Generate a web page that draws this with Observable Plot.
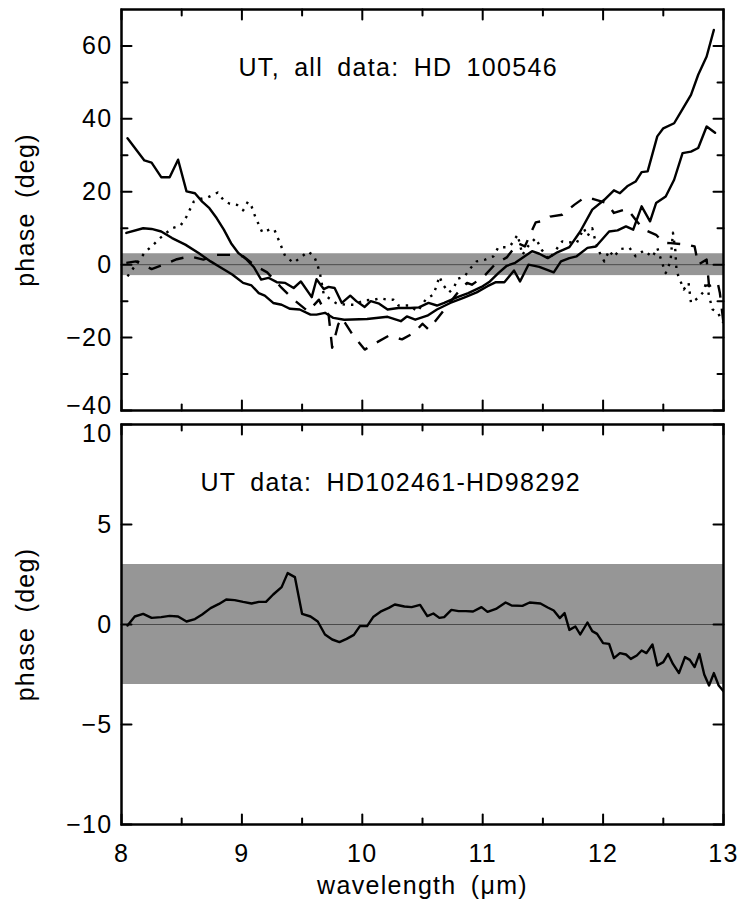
<!DOCTYPE html>
<html>
<head>
<meta charset="utf-8">
<script src="https://cdn.jsdelivr.net/npm/d3@7"></script>
<script src="https://cdn.jsdelivr.net/npm/@observablehq/plot@0.6"></script>
<style>
  body { margin: 0; background: #fff; }
  #chart svg { display: block; }
</style>
</head>
<body>
<div id="chart"></div>
<script>
// ---- Upper panel: HD 100546, four UT measurement sets (phase in degrees) ----
const wlSolid1 = [8.05, 8.19, 8.25, 8.33, 8.40, 8.47, 8.54, 8.61, 8.67, 8.73, 8.79, 8.85, 8.91, 8.97, 9.04, 9.10, 9.16, 9.22, 9.29, 9.36, 9.43, 9.49, 9.58, 9.62, 9.68, 9.72, 9.77, 9.83, 9.90, 9.95, 10.02, 10.07, 10.14, 10.21, 10.30, 10.40, 10.47, 10.55, 10.62, 10.68, 10.79, 10.88, 10.99, 11.06, 11.13, 11.20, 11.27, 11.34, 11.41, 11.47, 11.54, 11.62, 11.72, 11.81, 11.91, 12.01, 12.09, 12.14, 12.20, 12.27, 12.32, 12.37, 12.45, 12.50, 12.59, 12.64, 12.73, 12.79, 12.86, 12.92];
const phSolid1 = [34.7, 28.6, 28.0, 24.0, 24.0, 28.8, 20.1, 19.6, 17.3, 15.5, 12.8, 9.6, 5.9, 3.2, 1.4, -0.7, -4.1, -3.6, -4.8, -5.0, -6.4, -4.6, -8.9, -4.0, -6.7, -6.1, -6.4, -10.5, -8.5, -10.0, -11.6, -10.0, -10.7, -12.3, -11.9, -11.9, -11.7, -10.5, -11.2, -10.5, -8.9, -7.8, -6.1, -4.6, -2.3, -0.3, 0.5, 2.1, 3.7, 3.0, 1.8, 3.4, 4.8, 9.1, 15.1, 17.8, 20.4, 19.6, 21.5, 22.8, 25.4, 25.6, 35.2, 37.4, 38.8, 41.6, 46.6, 52.1, 57.1, 64.4];

const wlSolid2 = [8.04, 8.18, 8.25, 8.33, 8.42, 8.53, 8.64, 8.74, 8.81, 8.92, 9.01, 9.08, 9.14, 9.19, 9.26, 9.33, 9.40, 9.48, 9.57, 9.62, 9.69, 9.76, 9.85, 10.04, 10.21, 10.32, 10.37, 10.44, 10.54, 10.62, 10.73, 10.84, 10.95, 11.04, 11.11, 11.18, 11.26, 11.31, 11.38, 11.47, 11.59, 11.65, 11.72, 11.78, 11.87, 11.94, 12.05, 12.12, 12.19, 12.25, 12.32, 12.39, 12.44, 12.52, 12.59, 12.66, 12.73, 12.79, 12.86, 12.93];
const phSolid2 = [8.7, 10.0, 9.8, 9.1, 7.3, 5.5, 3.2, 0.9, -0.5, -2.7, -5.0, -5.7, -7.8, -8.5, -10.5, -11.0, -12.1, -12.3, -13.7, -13.7, -13.2, -14.6, -15.1, -14.9, -14.3, -15.5, -14.2, -15.1, -14.0, -12.3, -10.5, -9.1, -7.6, -5.9, -4.8, -4.8, -1.6, -4.6, 0.0, -0.6, -2.1, 0.9, 1.8, 2.3, 4.6, 5.0, 9.1, 9.4, 10.5, 9.6, 16.0, 11.9, 16.9, 18.7, 23.3, 30.6, 31.0, 32.0, 37.9, 36.2];

const wlDotted = [8.05, 8.15, 8.20, 8.25, 8.32, 8.42, 8.49, 8.54, 8.60, 8.65, 8.72, 8.80, 8.85, 8.90, 8.96, 9.01, 9.05, 9.08, 9.11, 9.17, 9.24, 9.27, 9.31, 9.36, 9.43, 9.48, 9.55, 9.60, 9.63, 9.65, 9.68, 9.78, 9.86, 9.93, 10.01, 10.10, 10.15, 10.21, 10.26, 10.30, 10.39, 10.46, 10.53, 10.59, 10.62, 10.64, 10.67, 10.72, 10.76, 10.79, 10.85, 10.90, 10.95, 11.02, 11.09, 11.13, 11.19, 11.23, 11.29, 11.33, 11.38, 11.44, 11.49, 11.55, 11.66, 11.78, 11.84, 11.87, 11.91, 11.94, 11.97, 12.01, 12.05, 12.09, 12.14, 12.22, 12.27, 12.34, 12.41, 12.45, 12.49, 12.52, 12.56, 12.58, 12.60, 12.61, 12.64, 12.67, 12.71, 12.73, 12.79, 12.83, 12.86, 12.88, 12.91, 12.95, 13.00];
const phDotted = [-3.2, 1.4, 3.6, 5.0, 7.3, 10.0, 10.7, 13.2, 17.3, 18.0, 18.5, 19.8, 17.6, 16.7, 16.4, 14.9, 17.3, 16.0, 13.2, 8.8, 9.8, 9.6, 6.4, 2.3, 0.5, 1.8, 3.6, 2.3, -0.3, -2.7, -8.2, -10.5, -11.0, -11.0, -9.8, -9.6, -9.2, -9.6, -9.6, -11.2, -11.2, -12.8, -9.4, -8.2, -5.5, -3.2, -5.5, -7.6, -6.4, -3.9, -3.2, -0.9, 0.9, 1.4, 2.3, 4.8, 4.8, 5.2, 8.2, 2.7, 5.2, 7.3, 4.1, 1.4, 6.4, 5.9, 10.0, 7.8, 10.0, 5.9, 3.4, 0.9, 3.9, 2.1, 4.3, 4.6, 2.3, 3.9, 2.1, 4.6, 0.5, -2.3, 0.9, 8.8, 3.9, -1.8, -4.3, -6.8, -5.0, -10.5, -9.1, -7.6, -4.6, -8.7, -12.3, -13.0, -16.0];

const wlDashed = [8.04, 8.12, 8.25, 8.35, 8.46, 8.57, 8.68, 8.79, 8.92, 9.01, 9.12, 9.21, 9.32, 9.43, 9.55, 9.64, 9.68, 9.72, 9.75, 9.80, 9.83, 9.92, 10.02, 10.11, 10.22, 10.33, 10.43, 10.50, 10.55, 10.79, 10.87, 10.91, 11.01, 11.10, 11.20, 11.25, 11.29, 11.35, 11.40, 11.44, 11.50, 11.56, 11.66, 11.76, 11.84, 11.92, 12.03, 12.09, 12.20, 12.28, 12.34, 12.44, 12.50, 12.56, 12.70, 12.76, 12.79, 12.86, 12.88, 12.95, 12.97, 13.00];
const phDashed = [0.5, 0.9, -1.2, 0.0, 1.5, 2.3, 1.4, 2.7, 2.7, 2.3, -0.5, -2.1, -6.0, -9.6, -12.8, -9.6, -12.3, -13.7, -22.8, -16.4, -14.6, -19.2, -23.3, -21.5, -19.5, -20.5, -18.7, -16.2, -17.8, -7.8, -5.0, -5.5, -3.2, 0.0, 2.0, 4.1, 5.9, 5.0, 8.7, 11.6, 12.0, 13.2, 13.7, 16.4, 18.3, 18.0, 16.9, 14.2, 15.3, 11.9, 9.6, 8.2, 6.0, 5.9, 5.5, 5.0, 0.0, 1.4, -5.9, -4.6, -7.8, -16.0];

// ---- Lower panel: calibrator pair HD102461 - HD98292 ----
const wlCal = [8.05, 8.11, 8.18, 8.25, 8.33, 8.40, 8.47, 8.54, 8.61, 8.67, 8.74, 8.81, 8.87, 8.94, 9.01, 9.08, 9.14, 9.20, 9.26, 9.33, 9.38, 9.44, 9.50, 9.57, 9.63, 9.69, 9.75, 9.81, 9.87, 9.93, 9.98, 10.04, 10.09, 10.16, 10.22, 10.27, 10.35, 10.41, 10.48, 10.54, 10.59, 10.64, 10.68, 10.74, 10.80, 10.86, 10.92, 10.99, 11.04, 11.11, 11.19, 11.24, 11.33, 11.39, 11.48, 11.54, 11.59, 11.64, 11.68, 11.72, 11.77, 11.81, 11.87, 11.91, 11.95, 12.00, 12.05, 12.09, 12.14, 12.19, 12.23, 12.28, 12.32, 12.36, 12.41, 12.45, 12.50, 12.54, 12.58, 12.63, 12.68, 12.72, 12.76, 12.80, 12.84, 12.88, 12.92, 12.96, 13.00];
const phCal = [-0.05, 0.4, 0.53, 0.33, 0.37, 0.43, 0.4, 0.15, 0.27, 0.5, 0.82, 1.03, 1.25, 1.22, 1.13, 1.05, 1.13, 1.13, 1.5, 1.87, 2.57, 2.37, 0.53, 0.4, 0.15, -0.5, -0.75, -0.88, -0.72, -0.52, -0.08, -0.08, 0.37, 0.67, 0.83, 1.0, 0.9, 0.87, 0.98, 0.42, 0.55, 0.33, 0.37, 0.73, 0.67, 0.67, 0.65, 0.87, 0.63, 0.78, 1.1, 0.95, 0.93, 1.1, 1.05, 0.85, 0.7, 0.32, 0.57, -0.27, -0.1, -0.5, 0.1, -0.33, -0.47, -0.93, -0.97, -1.68, -1.43, -1.5, -1.72, -1.55, -1.3, -1.43, -1.0, -2.05, -1.88, -1.47, -1.97, -2.43, -1.63, -1.77, -2.13, -1.47, -2.5, -3.05, -2.43, -3.05, -3.33];

// ---- Axes, band and labels ----
const xDomain = [8, 13];
const xMajor = [8, 9, 10, 11, 12, 13];
const xMinor = [8.5, 9.5, 10.5, 11.5, 12.5];
const yDomainTop = [-40, 70];
const yMajorTop = [-20, 0, 20, 40, 60];
const yEndTop = [-40];
const yMinorTop = [-30, -10, 10, 30, 50];
const yDomainBottom = [-10, 10];
const yMajorBottom = [-10, -5, 0, 5];
const yEndBottom = [10];
const toleranceBand = [3];   // ±3 degree tolerance
const titleTop = "UT, all data: HD 100546";
const titleBottom = "UT data: HD102461-HD98292";
const yLabel = "phase (deg)";
const xLabel = "wavelength (\u03bcm)";

const rows = (wl, ph) => wl.map((w, i) => ({wl: w, ph: ph[i]}));

const FS = 25;
const svgStyle = "background:transparent;overflow:visible;font-family:'Liberation Sans',Arial,sans-serif;font-size:25px;letter-spacing:1.3px;word-spacing:6px;";
const tickShape = {draw(ctx, l) { ctx.moveTo(0, 0); ctx.lineTo(0, -l); }};

// inward-pointing tick marks along one edge of the frame
function edgeTicks(values, channel, side, length) {
  const rotate = {left: 90, right: -90, bottom: 0, top: 180}[side];
  return Plot.vector(values, {
    [channel]: (d) => d, frameAnchor: side, rotate, length,
    anchor: "start", shape: tickShape, stroke: "black", strokeWidth: 2
  });
}

function boxMarks(yMajor, yMinor) {
  return [
    edgeTicks(xMajor, "x", "bottom", 10), edgeTicks(xMinor, "x", "bottom", 6),
    edgeTicks(xMajor, "x", "top", 10), edgeTicks(xMinor, "x", "top", 6),
    edgeTicks(yMajor, "y", "left", 10), edgeTicks(yMinor, "y", "left", 6),
    edgeTicks(yMajor, "y", "right", 10), edgeTicks(yMinor, "y", "right", 6),
    Plot.frame({stroke: "black", strokeWidth: 2.5})
  ];
}

const yTickLabels = (ticks, dy = 0) =>
  Plot.axisY({ticks, tickSize: 0, tickPadding: 9, fontSize: FS, label: null, dy});

const band = [
  Plot.rect(toleranceBand, {y1: (d) => -d, y2: (d) => d, fill: "#969696"}),
  Plot.ruleY([0], {stroke: "#4a4a4a", strokeWidth: 1})
];

const solid = {x: "wl", y: "ph", stroke: "black", strokeWidth: 2.4, clip: true};
const dotted = {...solid, strokeDasharray: "2.4,6", strokeLinecap: "butt"};
const dashed = {...solid, strokeDasharray: "13,11", strokeLinecap: "butt"};

const yTitle = Plot.text([yLabel], {
  frameAnchor: "left", rotate: -90, dx: -88, textAnchor: "middle",
  lineAnchor: "bottom", fontSize: FS
});

const topPanel = Plot.plot({
  width: 744, height: 417,
  marginLeft: 121, marginRight: 21, marginTop: 9, marginBottom: 7,
  style: svgStyle,
  x: {domain: xDomain, axis: null},
  y: {domain: yDomainTop, axis: null},
  marks: [
    ...band,
    Plot.line(rows(wlDotted, phDotted), dotted),
    Plot.line(rows(wlDashed, phDashed), dashed),
    Plot.line(rows(wlSolid2, phSolid2), solid),
    Plot.line(rows(wlSolid1, phSolid1), solid),
    yTickLabels(yMajorTop),
    yTickLabels(yEndTop, -5),
    Plot.text([titleTop], {frameAnchor: "top-left", dx: 117, dy: 66, textAnchor: "start", lineAnchor: "bottom", fontSize: FS}),
    yTitle,
    ...boxMarks([...yEndTop, ...yMajorTop], yMinorTop)
  ]
});

const bottomPanel = Plot.plot({
  width: 744, height: 486,
  marginLeft: 121, marginRight: 21, marginTop: 7, marginBottom: 79,
  style: svgStyle,
  x: {domain: xDomain, axis: null},
  y: {domain: yDomainBottom, axis: null},
  marks: [
    ...band,
    Plot.line(rows(wlCal, phCal), solid),
    yTickLabels(yMajorBottom),
    yTickLabels(yEndBottom, 9),
    Plot.axisX({ticks: xMajor, tickSize: 0, tickPadding: 20, fontSize: FS, label: null, tickFormat: "d"}),
    Plot.text([titleBottom], {frameAnchor: "top-left", dx: 79, dy: 66, textAnchor: "start", lineAnchor: "bottom", fontSize: FS}),
    Plot.text([xLabel], {frameAnchor: "bottom", dy: 69, textAnchor: "middle", lineAnchor: "bottom", fontSize: FS}),
    yTitle,
    ...boxMarks([...yMajorBottom, ...yEndBottom], [])
  ]
});

const chart = document.getElementById("chart");
chart.append(topPanel, bottomPanel);
</script>
</body>
</html>
